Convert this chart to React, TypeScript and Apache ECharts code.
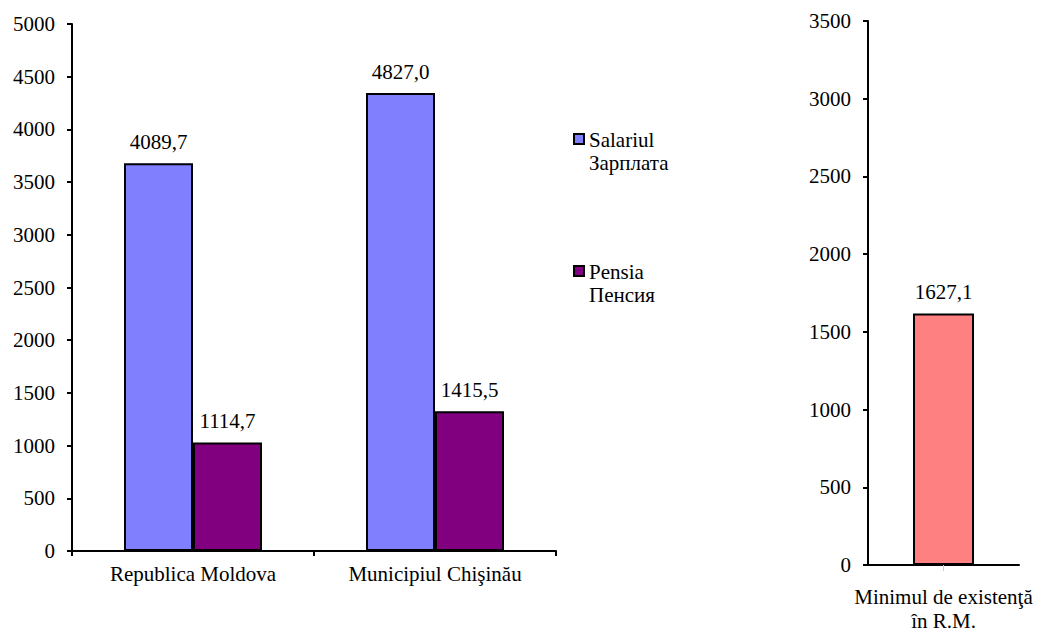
import React, { useEffect, useRef } from "react";
import * as echarts from "echarts";

const categories = ["Republica Moldova", "Municipiul Chişinău"];
const seriesNames = ["Salariul\nЗарплата", "Pensia\nПенсия"];
const salariulValues = [3678, 4345];
const pensiaValues = [1029, 1326];
const salariulLabels = ["4089,7", "4827,0"];
const pensiaLabels = ["1114,7", "1415,5"];

const minCategories = ["Minimul de existenţă\nîn R.M."];
const minValues = [1618];
const minLabels = ["1627,1"];

const leftTicks = { min: 0, max: 5000, interval: 500 };
const rightTicks = { min: 0, max: 3500, interval: 500 };

const FONT = "'Liberation Serif', 'Times New Roman', serif";
const FS = 21;
const colors = ["#8080FF", "#800080", "#FF8080"];

export default function App() {
  const ref = useRef<HTMLDivElement>(null);
  useEffect(() => {
    document.body.style.margin = "0";
    if (!ref.current) return;
    const chart = echarts.init(ref.current, undefined, { renderer: "svg" });
    const axisLine = { show: true, lineStyle: { color: "#000", width: 2 } };
    const txt = { color: "#000", fontFamily: FONT, fontSize: FS };
    const mkLabel = (labels: string[]) => ({
      show: true,
      position: "top",
      distance: 11,
      ...txt,
      formatter: (p: any) => labels[p.dataIndex],
    });
    const yLabel = { ...txt, margin: 17, formatter: (v: number) => String(v) };
    chart.setOption({
      animation: false,
      backgroundColor: "#fff",
      grid: [
        { left: 72, top: 24, width: 484, height: 527 },
        { left: 868, top: 21, width: 151, height: 544 },
      ],
      xAxis: [
        {
          gridIndex: 0,
          type: "category",
          data: categories,
          axisLine,
          axisTick: { show: true, alignWithLabel: false, length: 5, lineStyle: { color: "#000", width: 2 } },
          axisLabel: { ...txt, margin: 12 },
        },
        {
          gridIndex: 1,
          type: "category",
          data: minCategories,
          axisLine,
          axisTick: { show: true, alignWithLabel: true, length: 6, lineStyle: { color: "#ccc", width: 1 } },
          axisLabel: { ...txt, margin: 20, lineHeight: 24 },
        },
      ],
      yAxis: [
        {
          gridIndex: 0,
          type: "value",
          ...leftTicks,
          axisLine,
          axisTick: { show: true, length: 5, lineStyle: { color: "#000", width: 2 } },
          axisLabel: yLabel,
          splitLine: { show: false },
        },
        {
          gridIndex: 1,
          type: "value",
          ...rightTicks,
          axisLine,
          axisTick: { show: true, length: 5, lineStyle: { color: "#000", width: 2 } },
          axisLabel: yLabel,
          splitLine: { show: false },
        },
      ],
      series: [
        {
          name: seriesNames[0],
          type: "bar",
          xAxisIndex: 0,
          yAxisIndex: 0,
          data: salariulValues,
          barWidth: 69,
          barGap: "0%",
          itemStyle: { color: colors[0], borderColor: "#000", borderWidth: 2 },
          label: mkLabel(salariulLabels),
        },
        {
          name: seriesNames[1],
          type: "bar",
          xAxisIndex: 0,
          yAxisIndex: 0,
          data: pensiaValues,
          barWidth: 69,
          barGap: "0%",
          itemStyle: { color: colors[1], borderColor: "#000", borderWidth: 2 },
          label: mkLabel(pensiaLabels),
        },
        {
          name: "Minimul",
          type: "bar",
          xAxisIndex: 1,
          yAxisIndex: 1,
          data: minValues,
          barWidth: 61,
          itemStyle: { color: colors[2], borderColor: "#000", borderWidth: 2 },
          label: mkLabel(minLabels),
        },
      ],
      graphic: [
        { type: "rect", left: 573, top: 133, shape: { width: 10, height: 10 }, style: { fill: colors[0], stroke: "#000", lineWidth: 2 } },
        { type: "text", left: 589, top: 128, style: { text: seriesNames[0], fill: "#000", fontFamily: FONT, fontSize: FS, lineHeight: 23 } },
        { type: "rect", left: 573, top: 265, shape: { width: 10, height: 10 }, style: { fill: colors[1], stroke: "#000", lineWidth: 2 } },
        { type: "text", left: 589, top: 260, style: { text: seriesNames[1], fill: "#000", fontFamily: FONT, fontSize: FS, lineHeight: 23 } },
      ],
    });
    return () => chart.dispose();
  }, []);
  return <div ref={ref} style={{ width: 1045, height: 634 }} />;
}
